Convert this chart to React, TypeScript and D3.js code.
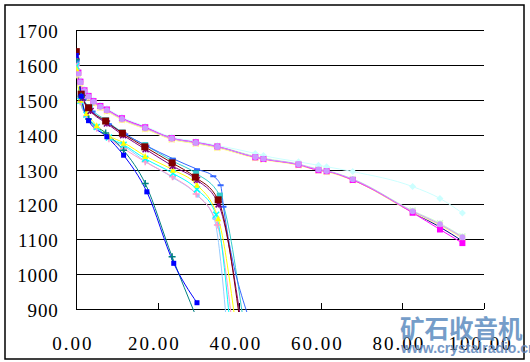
import React from "react";
import * as d3 from "d3";

// ---- tick labels ----
const Y_TICKS = [900, 1000, 1100, 1200, 1300, 1400, 1500, 1600, 1700];
const X_TICKS = [0, 20, 40, 60, 80, 100];

// ---- long-running group ----
const X_LONG = [0, 0.5, 1, 2, 3, 4.2, 5.9, 7.5, 11.2, 16.9, 23.4, 29.3, 34.6, 43.9, 45.9, 54.5, 59.4, 61.4, 67.8, 82.5, 89.2, 94.7];
const V_NAVY = [1602, 1576, 1550, 1526, 1510, 1495, 1481, 1471, 1446, 1420, 1389, 1377, 1365, 1335, 1330, 1314, 1298, 1295, 1270, 1177, 1135, 1095];
const V_PEACH = [1598, 1572, 1547, 1522, 1506, 1491, 1478, 1468, 1443, 1417, 1387, 1375, 1363, 1334, 1330, 1313, 1298, 1294, 1270, 1178, 1141, 1104];
const V_LGREEN = [1603, 1577, 1551, 1527, 1511, 1496, 1482, 1472, 1447, 1421, 1391, 1379, 1367, 1338, 1333, 1316, 1301, 1297, 1273, 1182, 1146, 1108];
const V_LYELLOW = [1596, 1570, 1545, 1521, 1505, 1490, 1477, 1467, 1442, 1416, 1386, 1374, 1362, 1333, 1328, 1312, 1297, 1293, 1269, 1177, 1140, 1103];
const V_LCYAN = [1610, 1582, 1556, 1530, 1514, 1499, 1485, 1475, 1450, 1424, 1393, 1381, 1369, 1346, 1340, 1322, 1312, 1308, 1294, 1251, 1217, 1175];
const V_MAGENTA = [1605, 1578, 1552, 1527, 1511, 1496, 1482, 1472, 1447, 1421, 1390, 1378, 1366, 1335, 1330, 1314, 1298, 1295, 1270, 1176, 1128, 1089];
const V_LAVENDER = [1600, 1575, 1550, 1525, 1509, 1494, 1480, 1470, 1445, 1419, 1389, 1377, 1365, 1336, 1331, 1315, 1300, 1296, 1272, 1180, 1143, 1106];

// ---- middle group ----
const X_LBLUE = [0, 1, 2.6, 5.2, 8.2, 11.8, 17.1, 23.8, 29.8, 33.8, 36.7];
const V_LBLUE = [1592, 1492, 1452, 1418, 1388, 1366, 1322, 1276, 1225, 1160, 880];
const X_PINK = [0, 1, 2.5, 5, 8, 11.6, 16.9, 23.6, 29.4, 34.6, 38.0];
const V_PINK = [1600, 1494, 1453, 1418, 1388, 1360, 1322, 1279, 1230, 1141, 880];
const X_CYAN = [0, 1, 2.5, 5, 8, 11.6, 16.9, 23.7, 29.6, 34.3, 37.5];
const V_CYAN = [1596, 1497, 1457, 1422, 1392, 1371, 1331, 1289, 1243, 1170, 880];
const X_YELLOW = [0, 1, 2.5, 5, 8, 11.6, 16.9, 23.7, 29.6, 34.8, 38.8];
const V_YELLOW = [1590, 1500, 1462, 1427, 1397, 1377, 1339, 1299, 1256, 1160, 880];
const X_TEAL = [0, 1.4, 3.3, 7.3, 11.3, 16.9, 23.5, 29.4, 35.2, 40.8];
const V_TEAL = [1615, 1512, 1478, 1441, 1406, 1370, 1325, 1289, 1225, 880];
const X_ROYAL = [0, 1.8, 4.0, 8.0, 12.0, 17.2, 23.7, 29.6, 33.6, 35.4, 36.1, 42.0];
const V_ROYAL = [1612, 1500, 1466, 1430, 1401, 1368, 1331, 1301, 1281, 1255, 1193, 885];
const X_PURPLE = [0, 1.5, 3.5, 7.5, 11.5, 17.0, 23.6, 29.6, 34.9, 40.2];
const V_PURPLE = [1625, 1505, 1468, 1432, 1398, 1358, 1310, 1270, 1200, 880];
const X_MAROON = [0, 1.2, 3.0, 7.2, 11.3, 16.8, 23.5, 29.2, 34.8, 40.0];
const V_MAROON = [1638, 1516, 1477, 1439, 1404, 1365, 1319, 1278, 1213, 875];

// ---- early-drop group ----
const X_DTEAL = [0, 1.2, 3, 7.2, 11.6, 16.9, 23.5, 29.5];
const V_DTEAL = [1615, 1510, 1445, 1405, 1355, 1260, 1050, 875];
const X_BLUE = [0, 1.2, 3, 7.5, 11.6, 17.3, 23.9, 29.6];
const V_BLUE = [1627, 1510, 1440, 1394, 1341, 1236, 1031, 918];

type Shape = "square" | "diamond" | "triangle" | "x" | "star" | "circle" | "plus" | "dash";
interface Series { x: number[]; v: number[]; color: string; marker: Shape; size: number; }

const SERIES: Series[] = [
  { x: X_LONG, v: V_NAVY, color: "#000080", marker: "diamond", size: 3 },
  { x: X_LONG, v: V_PEACH, color: "#FFCC99", marker: "triangle", size: 6 },
  { x: X_LONG, v: V_LGREEN, color: "#CCFFCC", marker: "star", size: 6 },
  { x: X_LONG, v: V_LYELLOW, color: "#FFFF99", marker: "x", size: 6 },
  { x: X_LONG, v: V_LCYAN, color: "#CCFFFF", marker: "diamond", size: 7 },
  { x: X_LONG, v: V_MAGENTA, color: "#FF00FF", marker: "square", size: 6 },
  { x: X_LONG, v: V_LAVENDER, color: "#CC99FF", marker: "circle", size: 6 },
  { x: X_LBLUE, v: V_LBLUE, color: "#99CCFF", marker: "circle", size: 4 },
  { x: X_PINK, v: V_PINK, color: "#FF99CC", marker: "plus", size: 7 },
  { x: X_CYAN, v: V_CYAN, color: "#00FFFF", marker: "x", size: 6 },
  { x: X_YELLOW, v: V_YELLOW, color: "#FFFF00", marker: "triangle", size: 6 },
  { x: X_TEAL, v: V_TEAL, color: "#33CCCC", marker: "square", size: 6 },
  { x: X_ROYAL, v: V_ROYAL, color: "#3366FF", marker: "dash", size: 6 },
  { x: X_PURPLE, v: V_PURPLE, color: "#800080", marker: "star", size: 6 },
  { x: X_MAROON, v: V_MAROON, color: "#800000", marker: "square", size: 7 },
  { x: X_DTEAL, v: V_DTEAL, color: "#008080", marker: "plus", size: 7 },
  { x: X_BLUE, v: V_BLUE, color: "#0000FF", marker: "square", size: 5 },
];

const W = 530, H = 362;
const L = 76.3, R = 484, T = 30, B = 309;

const xS = d3.scaleLinear().domain([0, 100]).range([L, R]);
const yS = d3.scaleLinear().domain([900, 1700]).range([B, T]);

function Marker({ shape, cx, cy, color, s }: { shape: Shape; cx: number; cy: number; color: string; s: number }) {
  const h = s / 2;
  switch (shape) {
    case "square":
      return <rect x={cx - h} y={cy - h} width={s} height={s} fill={color} />;
    case "diamond":
      return <polygon points={`${cx},${cy - h} ${cx + h},${cy} ${cx},${cy + h} ${cx - h},${cy}`} fill={color} />;
    case "triangle":
      return <polygon points={`${cx},${cy - h} ${cx + h},${cy + h} ${cx - h},${cy + h}`} fill={color} />;
    case "circle":
      return <circle cx={cx} cy={cy} r={h} fill={color} />;
    case "x":
      return (
        <g stroke={color} strokeWidth={1.5}>
          <line x1={cx - h} y1={cy - h} x2={cx + h} y2={cy + h} />
          <line x1={cx - h} y1={cy + h} x2={cx + h} y2={cy - h} />
        </g>
      );
    case "star":
      return (
        <g stroke={color} strokeWidth={1.5}>
          <line x1={cx - h} y1={cy - h} x2={cx + h} y2={cy + h} />
          <line x1={cx - h} y1={cy + h} x2={cx + h} y2={cy - h} />
          <line x1={cx} y1={cy - h} x2={cx} y2={cy + h} />
        </g>
      );
    case "plus":
      return (
        <g stroke={color} strokeWidth={1.5}>
          <line x1={cx - h} y1={cy} x2={cx + h} y2={cy} />
          <line x1={cx} y1={cy - h} x2={cx} y2={cy + h} />
        </g>
      );
    case "dash":
      return <line x1={cx - h} y1={cy} x2={cx + h} y2={cy} stroke={color} strokeWidth={2} />;
  }
  return null;
}

export default function App() {
  const line = d3
    .line<[number, number]>()
    .x((d) => xS(d[0]))
    .y((d) => yS(d[1]))
    .curve(d3.curveMonotoneX);

  const labelFont = "'Liberation Serif', 'Times New Roman', serif";

  return (
    <svg width={W} height={H} style={{ position: "absolute", left: 0, top: 0, background: "#fff" }}>
      <defs>
        <clipPath id="plotClip">
          <rect x={L} y={T - 4} width={R - L + 2} height={B - T + 7} />
        </clipPath>
      </defs>
      <rect x={0} y={0} width={W} height={H} fill="#fff" />
      <rect x={5} y={5} width={519} height={354} fill="none" stroke="#000" strokeWidth={1.5} />

      {/* gridlines */}
      {Y_TICKS.map((t) => (
        <line key={"g" + t} x1={L} x2={R} y1={Math.round(yS(t)) + 0.5} y2={Math.round(yS(t)) + 0.5} stroke="#000" strokeWidth={1} shapeRendering="crispEdges" />
      ))}
      {/* axes */}
      <line x1={Math.round(L) + 0.5} x2={Math.round(L) + 0.5} y1={T} y2={B + 1} stroke="#000" strokeWidth={1} shapeRendering="crispEdges" />
      {X_TICKS.map((t) => (
        <line key={"xt" + t} x1={Math.round(xS(t)) + 0.5} x2={Math.round(xS(t)) + 0.5} y1={B - 6} y2={B} stroke="#000" strokeWidth={1} shapeRendering="crispEdges" />
      ))}

      {/* series */}
      <g clipPath="url(#plotClip)">
        {SERIES.map((s, i) => {
          const pts: [number, number][] = s.x.map((xv, j) => [xv, s.v[j]]);
          return <path key={"l" + i} d={line(pts) || ""} fill="none" stroke={s.color} strokeWidth={1} />;
        })}
        {SERIES.map((s, i) => (
          <g key={"m" + i}>
            {s.x.map((xv, j) =>
              s.v[j] >= 900 ? (
                <Marker key={j} shape={s.marker} cx={xS(xv)} cy={yS(s.v[j])} color={s.color} s={s.size} />
              ) : null
            )}
          </g>
        ))}
      </g>

      {/* y labels */}
      {Y_TICKS.map((t) => (
        <text key={"yl" + t} x={58.5} y={yS(t) + 8} textAnchor="end" fontFamily={labelFont} fontSize={19} letterSpacing={0.8} fill="#000">
          {t}
        </text>
      ))}
      {/* x labels */}
      {X_TICKS.map((t) => (
        <text key={"xl" + t} x={xS(t) - 3.5} y={349.5} textAnchor="middle" fontFamily={labelFont} fontSize={19} letterSpacing={2} fill="#000">
          {t.toFixed(2)}
        </text>
      ))}

      {/* watermark */}
      <text x={400} y={338} fontFamily="'Noto Sans CJK SC', sans-serif" fontWeight="bold" fontSize={24.5} fill="#5d8dc0" opacity={0.85}>
        矿石收音机
      </text>
      <text x={401} y={353} fontFamily="'Liberation Sans', Arial, sans-serif" fontWeight="bold" fontSize={14} fill="#5d86bb" opacity={0.85}>
        www.crystalradio.cn
      </text>
    </svg>
  );
}
